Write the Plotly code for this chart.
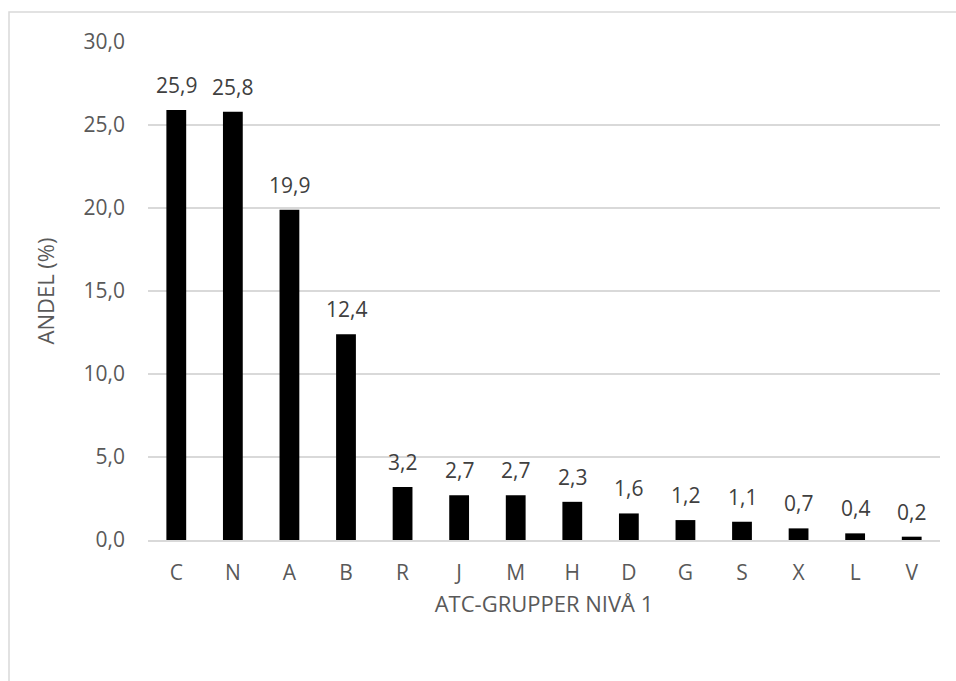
import plotly.graph_objects as go

# ATC level-1 groups and their share (%)
categories = ["C", "N", "A", "B", "R", "J", "M", "H", "D", "G", "S", "X", "L", "V"]
shares = [25.9, 25.8, 19.9, 12.4, 3.2, 2.7, 2.7, 2.3, 1.6, 1.2, 1.1, 0.7, 0.4, 0.2]
y_ticks = [0, 5, 10, 15, 20, 25, 30]

W, H = 956, 681
L, R, T, B = 148, 16, 42, 141
plot_w = W - L - R
plot_h = H - T - B

font_family = "Open Sans, Liberation Sans, sans-serif"
text_col = "#595959"
label_col = "#404040"

fig = go.Figure(
    go.Bar(
        x=categories,
        y=shares,
        marker=dict(color="#000000", line=dict(width=0)),
        width=0.35,
        hoverinfo="x+y",
    )
)

# value labels above each bar
for cat, val in zip(categories, shares):
    fig.add_annotation(
        x=cat, y=val, xref="x", yref="y",
        text=f"{val:.1f}".replace(".", ","),
        showarrow=False, yanchor="bottom", yshift=9,
        font=dict(family=font_family, size=21, color=label_col),
    )

# outer chart frame (extends past the right and bottom edges)
fig.add_shape(
    type="rect",
    xref="paper", yref="paper",
    x0=(9 - L) / plot_w, x1=(W + 10 - L) / plot_w,
    y0=(H - B - (H + 10)) / plot_h, y1=(H - B - 12) / plot_h,
    line=dict(color="#d9d9d9", width=1.5),
    fillcolor="rgba(0,0,0,0)",
    layer="below",
)

fig.update_layout(
    width=W, height=H,
    margin=dict(l=L, r=R, t=T, b=B),
    paper_bgcolor="white",
    plot_bgcolor="white",
    separators=", ",
    showlegend=False,
    xaxis=dict(
        title=dict(text="ATC-GRUPPER NIVÅ 1", font=dict(family=font_family, size=22, color=text_col), standoff=12),
        tickfont=dict(family=font_family, size=21, color=text_col),
        showline=True, linecolor="#d9d9d9", linewidth=1.5,
        ticks="", ticklabelstandoff=13,
    ),
    yaxis=dict(
        title=dict(text="ANDEL (%)", font=dict(family=font_family, size=22, color=text_col), standoff=22),
        range=[0, 30],
        tickvals=y_ticks,
        tickformat=".1f",
        tickfont=dict(family=font_family, size=21, color=text_col),
        showgrid=True, gridcolor="#d9d9d9", gridwidth=1.5,
        zeroline=False, showline=False, ticks="",
        ticklabelstandoff=22,
    ),
)

fig.write_html("out.html")
